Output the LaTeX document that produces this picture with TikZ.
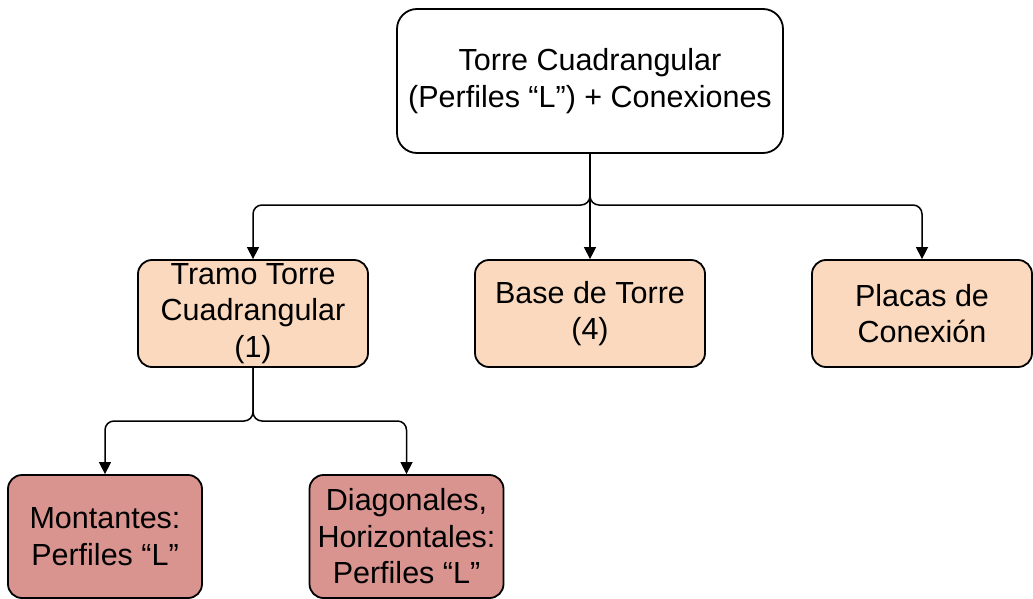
\documentclass[tikz,border=0pt]{standalone}
\usepackage{fontspec}
\setmainfont{Liberation Sans}
\usetikzlibrary{arrows.meta}
\definecolor{peach}{RGB}{250,217,190}
\definecolor{rose}{RGB}{217,148,144}
\begin{document}
\begin{tikzpicture}[x=1pt,y=-1pt,
  box/.style={draw=black, line width=1.8pt, align=center, inner sep=0pt,
    font=\fontsize{30.5}{36.5}\selectfont},
  rootbox/.style={box, fill=white, rounded corners=20pt, minimum width=386pt, minimum height=144pt},
  midbox/.style={box, fill=peach, rounded corners=14pt, minimum width=230pt, minimum height=107pt},
  leafbox/.style={box, fill=rose, rounded corners=14pt, minimum width=194pt, minimum height=123pt},
  conn/.style={line width=1.5pt, rounded corners=9pt, -{Triangle[length=12pt,width=12pt]}}
]
\useasboundingbox (0,0) rectangle (1033,599);

% tree nodes
\node[rootbox] (root) at (590,81) {Torre Cuadrangular\\(Perfiles “L”) + Conexiones};
\node[midbox] (tramo) at (253,313.5) {Tramo Torre\\Cuadrangular\\(1)};
\node[midbox] (base) at (590,313.5) {Base de Torre\\(4)};
\node[midbox, minimum width=220pt] (placas) at (922,313.5) {Placas de\\Conexión};
\node[leafbox] (mont) at (105,536.5) {Montantes:\\Perfiles “L”};
\node[leafbox] (diag) at (406.5,536.5) {Diagonales,\\Horizontales:\\Perfiles “L”};

% branch points
\coordinate (j1) at (590,205);
\coordinate (j2) at (253,421);

% first level connectors
\draw[conn] (root.south) -- (j1) -| (tramo.north);
\draw[conn] (root.south) -- (j1) -| (placas.north);
\draw[conn] (root.south) -- (base.north);

% second level connectors
\draw[conn] (tramo.south) -- (j2) -| (mont.north);
\draw[conn] (tramo.south) -- (j2) -| (diag.north);
\end{tikzpicture}
\end{document}
